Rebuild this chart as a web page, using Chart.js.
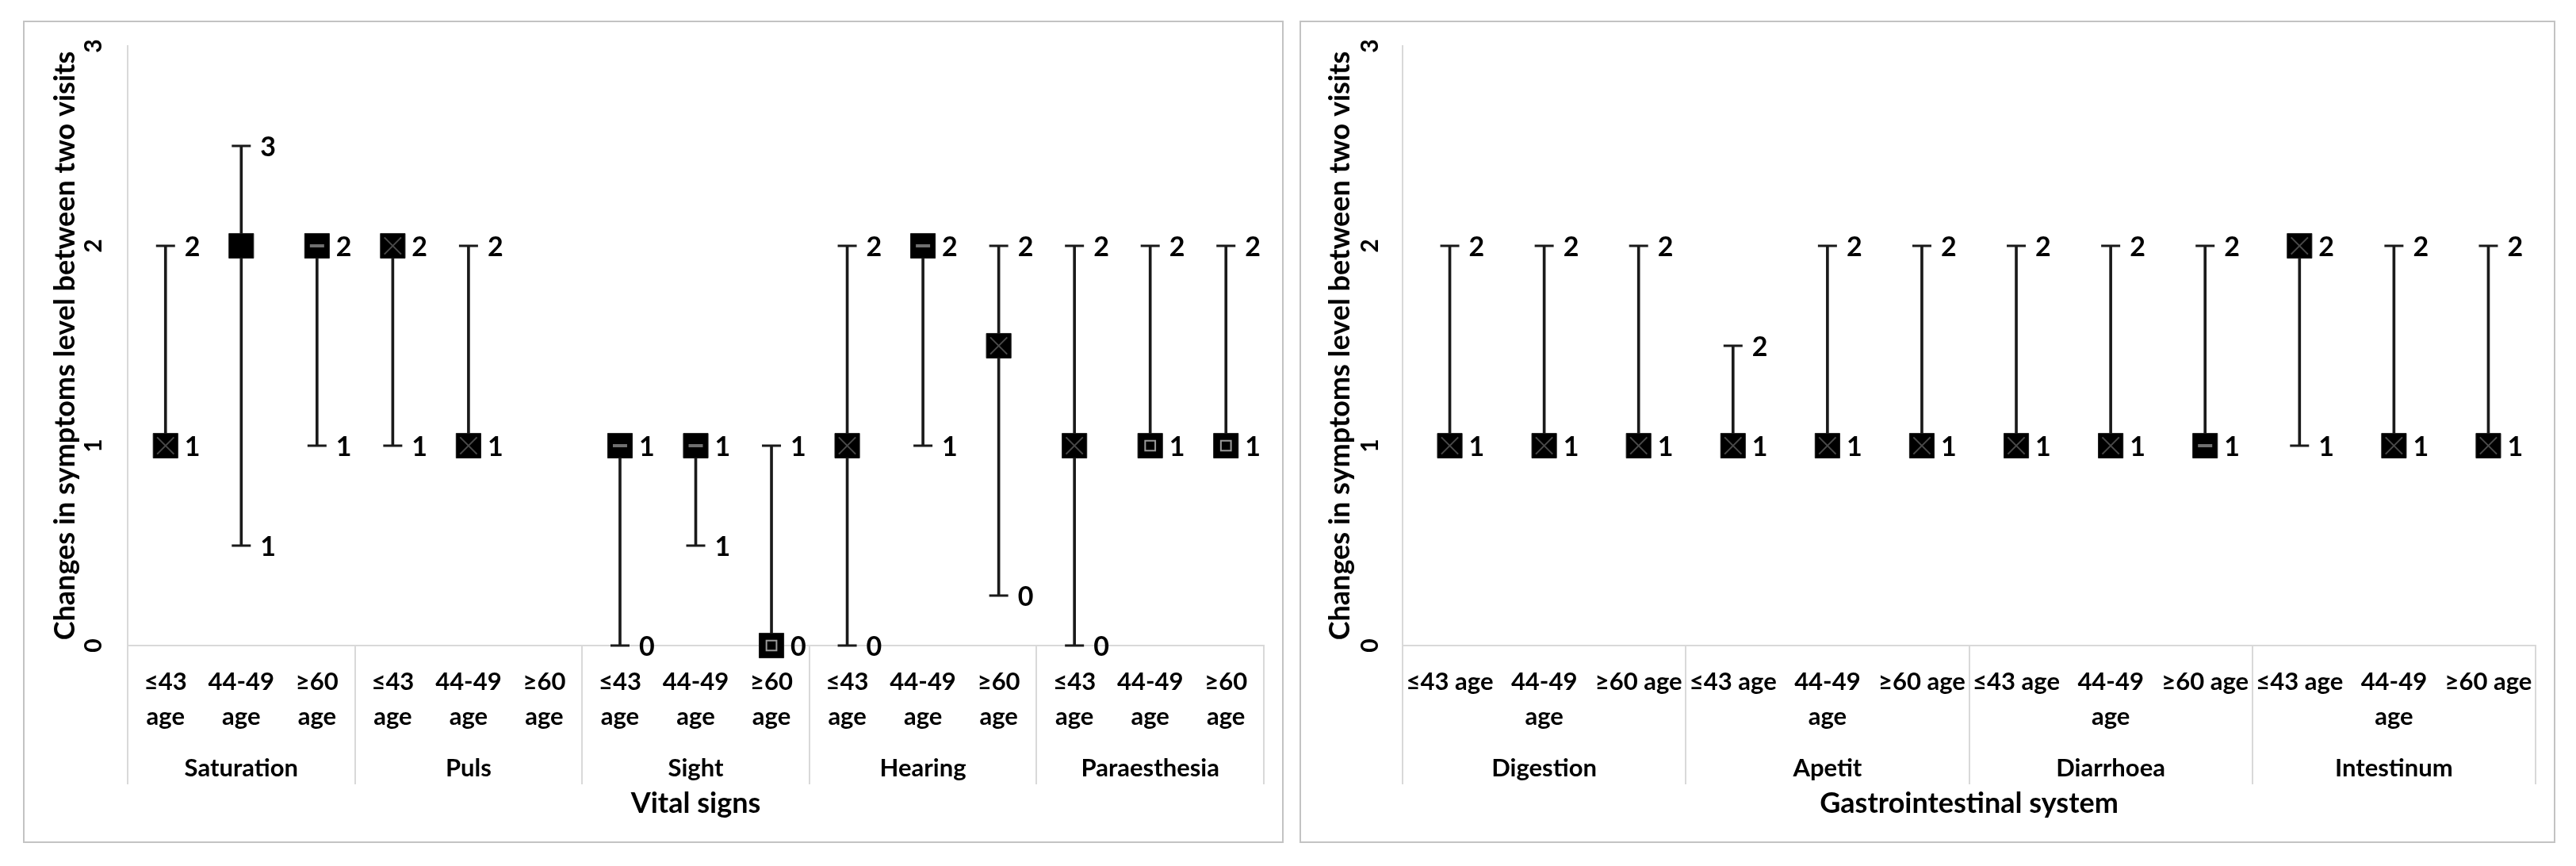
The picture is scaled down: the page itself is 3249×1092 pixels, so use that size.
<!DOCTYPE html>
<html>
<head>
<meta charset="utf-8">
<title>Changes in symptoms level between two visits</title>
<script src="https://cdn.jsdelivr.net/npm/chart.js@4.4.1/dist/chart.umd.min.js"></script>
<style>
  html, body { margin: 0; padding: 0; background: #fff; }
  body { width: 3249px; height: 1092px; position: relative; overflow: hidden; }
  .panel { position: absolute; top: 26px; height: 1033px; border: 2px solid #c3c3c3; background: #fff; }
  #vitalPanel { left: 29px; width: 1586px; }
  #gastroPanel { left: 1639px; width: 1580px; }
</style>
</head>
<body>
<div class="panel" id="vitalPanel"><canvas id="vitalChart"></canvas></div>
<div class="panel" id="gastroPanel"><canvas id="gastroChart"></canvas></div>

<script>
// Category labels
const vitalAges = [["≤43", "age"], ["44-49", "age"], ["≥60", "age"]];
const gastroAges = ["≤43 age", ["44-49", "age"], "≥60 age"];
const vitalGroups = ["Saturation", "Puls", "Sight", "Hearing", "Paraesthesia"];
const gastroGroups = ["Digestion", "Apetit", "Diarrhoea", "Intestinum"];
const yTitle = "Changes in symptoms level between two visits";

// Vital signs: bottom of range, top of range, marker (per age group)
const vitalLow = [1, 0.5, 1, 1, 1, null, 0, 0.5, 0, 0, 1, 0.25, 0, 1, 1];
const vitalHigh = [2, 2.5, 2, 2, 2, null, 1, 1, 1, 2, 2, 2, 2, 2, 2];
const vitalMid = [1, 2, 2, 2, 1, null, 1, 1, 0, 1, 2, 1.5, 1, 1, 1];

// Gastrointestinal system
const gastroLow = [1, 1, 1, 1, 1, 1, 1, 1, 1, 1, 1, 1];
const gastroHigh = [2, 2, 2, 1.5, 2, 2, 2, 2, 2, 2, 2, 2];
const gastroMid = [1, 1, 1, 1, 1, 1, 1, 1, 1, 2, 1, 1];

// look of the small symbol inside each marker
const vitalInner = ["x", "none", "dash", "x", "x", "none", "dash", "dash", "box", "x", "dash", "x", "x", "box", "box"];
const gastroInner = ["x", "x", "x", "x", "x", "x", "x", "x", "dash", "x", "x", "x"];

const FONT = "Lato";
const looks = {
  x: { style: "crossRot", radius: 15, color: "#4a4a4a", width: 2 },
  dash: { style: "line", radius: 9, color: "#707070", width: 4 },
  box: { style: "rect", radius: 9, color: "#9a9a9a", width: 2 },
  none: { style: "circle", radius: 0, color: "#000", width: 0 },
};

// Write rounded values right of the range ends
const rangeLabels = {
  id: "rangeLabels",
  afterDatasetsDraw(chart) {
    const ctx = chart.ctx;
    ctx.save();
    ctx.font = "bold 34px " + FONT;
    ctx.fillStyle = "#000";
    ctx.textAlign = "left";
    ctx.textBaseline = "middle";
    chart.data.datasets.forEach((ds, di) => {
      if (!ds.showValue) return;
      chart.getDatasetMeta(di).data.forEach((pt, i) => {
        const v = ds.data[i];
        if (v === null || v === undefined) return;
        ctx.fillText(String(Math.round(v)), pt.x + 24, pt.y + 2);
      });
    });
    ctx.restore();
  },
};

// only the lines between groups are visible
const sepColor = (c) =>
  c.index === undefined || c.index % 3 === 0 ? "#d9d9d9" : "rgba(0,0,0,0)";

function makeChart(id, c) {
  const labels = c.groups.flatMap(() => c.ages);
  const groupRow = c.groups.flatMap((g) => ["", g, ""]);
  const inner = c.inner.map((k) => looks[k]);

  return new Chart(document.getElementById(id), {
    type: "bar",
    data: {
      labels: labels,
      datasets: [
        {
          type: "line",
          label: "inner",
          data: c.mid,
          showLine: false,
          order: 1,
          clip: false,
          pointStyle: inner.map((l) => l.style),
          pointRadius: inner.map((l) => l.radius),
          pointBorderColor: inner.map((l) => l.color),
          pointBorderWidth: inner.map((l) => l.width),
          pointBackgroundColor: "rgba(0,0,0,0)",
        },
        {
          type: "line",
          label: "marker",
          data: c.mid,
          showLine: false,
          order: 2,
          clip: false,
          pointStyle: "rect",
          pointRadius: 22,
          pointBackgroundColor: "#000",
          pointBorderColor: "#1a1a1a",
          pointBorderWidth: 1,
        },
        {
          type: "line",
          label: "high",
          data: c.high,
          showLine: false,
          showValue: true,
          order: 3,
          clip: false,
          pointStyle: "line",
          pointRadius: 12,
          pointBorderColor: "#1a1a1a",
          pointBorderWidth: 3,
        },
        {
          type: "line",
          label: "low",
          data: c.low,
          showLine: false,
          showValue: true,
          order: 3,
          clip: false,
          pointStyle: "line",
          pointRadius: 12,
          pointBorderColor: "#1a1a1a",
          pointBorderWidth: 3,
        },
        {
          type: "bar",
          label: "range",
          data: c.low.map((v, i) => (v === null ? null : [v, c.high[i]])),
          order: 4,
          backgroundColor: "#1a1a1a",
          barThickness: 3,
        },
      ],
    },
    options: {
      responsive: true,
      maintainAspectRatio: false,
      animation: false,
      events: [],
      layout: { padding: { top: 30, right: 21, left: 0, bottom: 0 } },
      plugins: { legend: { display: false }, tooltip: { enabled: false } },
      scales: {
        x: {
          type: "category",
          position: "bottom",
          offset: true,
          grid: {
            offset: true,
            drawOnChartArea: false,
            drawTicks: true,
            tickLength: 175,
            lineWidth: 2,
            color: sepColor,
          },
          border: { display: true, color: "#d9d9d9", width: 2 },
          ticks: {
            autoSkip: false,
            maxRotation: 0,
            minRotation: 0,
            padding: -151,
            color: "#000",
            font: { family: FONT, size: 31, weight: "bold", lineHeight: "44px" },
          },
          afterFit: (s) => { s.height = 120; },
        },
        x2: {
          type: "category",
          axis: "x",
          position: "bottom",
          offset: true,
          labels: groupRow,
          grid: { display: false, drawTicks: false },
          border: { display: false },
          ticks: {
            autoSkip: false,
            maxRotation: 0,
            minRotation: 0,
            padding: 15,
            color: "#000",
            font: { family: FONT, size: 31, weight: "bold", lineHeight: "40px" },
          },
          title: {
            display: true,
            text: c.title,
            color: "#000",
            font: { family: FONT, size: 36, weight: "bold", lineHeight: "44px" },
            padding: { top: 0, bottom: 26 },
          },
          afterFit: (s) => { s.height = 127; },
        },
        y: {
          min: 0,
          max: 3,
          position: "left",
          grid: {
            drawOnChartArea: false,
            drawTicks: true,
            tickLength: c.yTickGap,
            color: "rgba(0,0,0,0)",
          },
          border: { display: true, color: "#d9d9d9", width: 2 },
          ticks: {
            stepSize: 1,
            padding: 0,
            minRotation: 90,
            maxRotation: 90,
            crossAlign: "center",
            color: "#000",
            font: { family: FONT, size: 30, weight: "bold" },
          },
          title: {
            display: true,
            text: yTitle,
            color: "#000",
            font: { family: FONT, size: 36, weight: "bold", lineHeight: "44px" },
            padding: { top: c.yTitleGap, bottom: 0 },
          },
          afterFit: (s) => { s.width = c.yWidth; },
        },
      },
    },
    plugins: [rangeLabels],
  });
}

makeChart("vitalChart", {
  groups: vitalGroups,
  ages: vitalAges,
  low: vitalLow,
  high: vitalHigh,
  mid: vitalMid,
  inner: vitalInner,
  title: "Vital signs",
  yWidth: 130,
  yTickGap: 34,
  yTitleGap: 29,
});

makeChart("gastroChart", {
  groups: gastroGroups,
  ages: gastroAges,
  low: gastroLow,
  high: gastroHigh,
  mid: gastroMid,
  inner: gastroInner,
  title: "Gastrointestinal system",
  yWidth: 128,
  yTickGap: 32,
  yTitleGap: 27,
});
</script>
</body>
</html>
